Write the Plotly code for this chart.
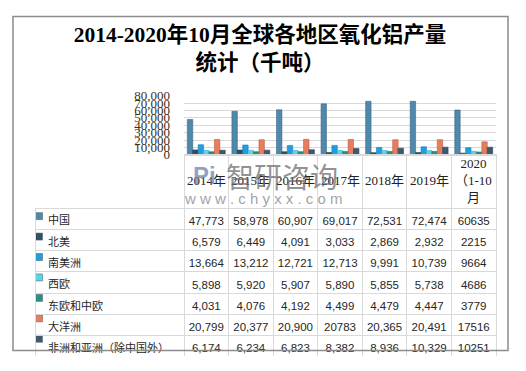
import plotly.graph_objects as go

W, H = 526, 371

title_text = "2014-2020年10月全球各地区氧化铝产量<br>统计（千吨）"
categories = ["2014年", "2015年", "2016年", "2017年", "2018年", "2019年", "2020（1-10月）"]
header_labels = ["2014年", "2015年", "2016年", "2017年", "2018年", "2019年", "2020<br>（1-10<br>月"]

series_names = ["中国", "北美", "南美洲", "西欧", "东欧和中欧", "大洋洲", "非洲和亚洲（除中国外）"]
china = [47773, 58978, 60907, 69017, 72531, 72474, 60635]
north_america = [6579, 6449, 4091, 3033, 2869, 2932, 2215]
south_america = [13664, 13212, 12721, 12713, 9991, 10739, 9664]
west_europe = [5898, 5920, 5907, 5890, 5855, 5738, 4686]
east_central_europe = [4031, 4076, 4192, 4499, 4479, 4447, 3779]
oceania = [20799, 20377, 20900, 20783, 20365, 20491, 17516]
africa_asia = [6174, 6234, 6823, 8382, 8936, 10329, 10251]
series_values = [china, north_america, south_america, west_europe,
                 east_central_europe, oceania, africa_asia]
# which table entries are printed without thousands separator in the source
plain_columns = [6]
plain_cells = [(5, 3)]

colors = ["#4f88aa", "#2f5168", "#1f9fe0", "#5dd2ec", "#2a8f86", "#e87c5e", "#3e5b6e"]
edge = ["#3a6a86", "#223c4e", "#1680b4", "#3fb0cc", "#1f6e67", "#c05c40", "#2c4352"]

y_ticks = [0, 10000, 20000, 30000, 40000, 50000, 60000, 70000, 80000]


def px_x(v):
    return v / W


def px_y(v):
    return 1 - v / H


fig = go.Figure()

for i, name in enumerate(series_names):
    fig.add_trace(go.Bar(
        x=categories, y=series_values[i], name=name,
        marker=dict(color=colors[i], line=dict(color=edge[i], width=0.6)),
        showlegend=False, hoverinfo="x+y+name",
    ))


def fmt(v, si, ci):
    if ci in plain_columns or (si, ci) in plain_cells:
        return str(v)
    return f"{v:,}"


label_col = ["\u00a0\u00a0" + n for n in series_names]
cols = [label_col]
for ci in range(len(categories)):
    cols.append([fmt(series_values[si][ci], si, ci) for si in range(len(series_names))])

grid = "#d9d9d9"
col_w = [149] + [44.57] * 7
row_top = 207.3
row_h = 21.3
table_bottom = row_top + row_h * len(series_names)

fig.add_trace(go.Table(
    domain=dict(x=[px_x(35), px_x(496)], y=[px_y(table_bottom + 8), px_y(154)]),
    columnwidth=col_w,
    header=dict(values=[""] * (len(categories) + 1), height=row_top - 154,
                fill_color="rgba(0,0,0,0)",
                line=dict(color=["rgba(0,0,0,0)"] + [grid] * 7, width=1),
                font=dict(size=10)),
    cells=dict(values=cols, height=row_h,
               align=["left"] + ["center"] * 7,
               fill_color="rgba(0,0,0,0)",
               line=dict(color=grid, width=1),
               font=dict(family=["Noto Sans CJK SC"] + ["Liberation Sans"] * 7,
                         size=[11] + [11.5] * 7, color="#262626")),
))

# legend keys in the table's first column
fig.add_trace(go.Scatter(
    x=[4] * len(series_names), y=list(range(len(series_names))),
    mode="markers",
    marker=dict(symbol="square", size=7, color=colors,
                line=dict(color="#555", width=0.5)),
    showlegend=False, hoverinfo="skip",
))
fig.data[-1].update(xaxis="x2", yaxis="y2")

# category labels in the table header row
cat_annotations = [
    dict(text=lab, x=cat, xref="x", y=px_y(180.5), yref="paper",
         xanchor="center", yanchor="middle", showarrow=False,
         font=dict(family="Liberation Serif, Noto Sans CJK SC", size=13, color="#222"))
    for cat, lab in zip(categories, header_labels)
]

fig.update_layout(
    width=W, height=H,
    margin=dict(l=0, r=0, t=0, b=0),
    paper_bgcolor="white", plot_bgcolor="rgba(0,0,0,0)",
    barmode="group", bargap=0.15, bargroupgap=0,
    title=dict(text=title_text, x=px_x(260), xanchor="center",
               y=px_y(42), yanchor="middle",
               font=dict(family="Liberation Serif, Noto Sans CJK SC", size=21.5, color="#000",
                         weight="bold")),
    xaxis=dict(domain=[px_x(184), px_x(496)], showticklabels=False,
               showgrid=False, zeroline=False, showline=False),
    yaxis=dict(domain=[px_y(154), px_y(92.5)], range=[0, 80000],
               tickvals=y_ticks, ticktext=[f"{v:,}" for v in y_ticks],
               showgrid=True, gridcolor=grid, gridwidth=1,
               zeroline=True, zerolinecolor=grid,
               ticks="", ticklabelstandoff=13,
               tickfont=dict(family="Liberation Serif", size=13, color="#3b3020")),
    xaxis2=dict(domain=[px_x(35), px_x(60)], range=[0, 25], visible=False, fixedrange=True),
    yaxis2=dict(domain=[px_y(table_bottom), px_y(row_top)], range=[len(series_names) - 0.5, -0.5],
                visible=False, fixedrange=True, anchor="x2"),
    font=dict(family="Noto Sans CJK SC"),
    shapes=[dict(type="rect", xref="paper", yref="paper",
                 x0=px_x(13), x1=px_x(508), y0=px_y(358), y1=px_y(10),
                 line=dict(color="#8c8c8c", width=1.5))],
    annotations=cat_annotations + [
        dict(text="<b>Pi</b>", x=px_x(204), y=px_y(176), xref="paper", yref="paper",
             showarrow=False, font=dict(family="Liberation Sans", size=24, color="rgba(110,130,175,0.75)")),
        dict(text="智研咨询", x=px_x(282), y=px_y(176), xref="paper", yref="paper",
             showarrow=False, font=dict(family="Noto Sans CJK SC", size=28, color="rgba(110,110,110,0.75)")),
        dict(text="w w w . c h y x x . c o m", x=px_x(263), y=px_y(200), xref="paper", yref="paper",
             showarrow=False, font=dict(family="Liberation Sans", size=15, color="rgba(130,130,130,0.75)")),
    ],
)

fig.write_html("out.html", config={"displayModeBar": False},
               post_script="document.body.style.margin='0px';")
